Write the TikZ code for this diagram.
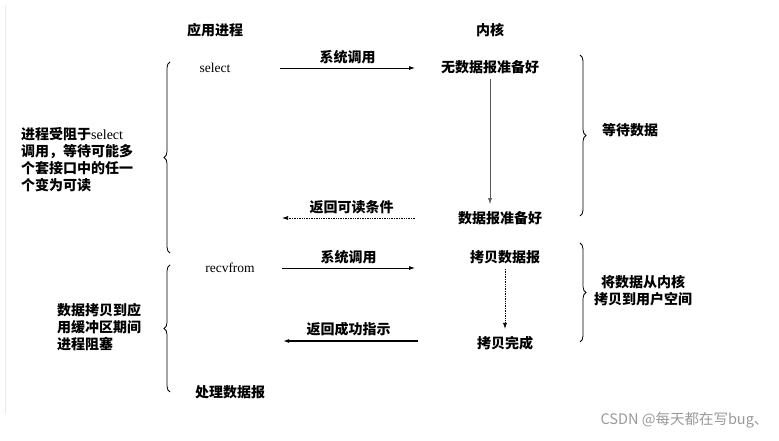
\documentclass[tikz,border=0pt]{standalone}
\usepackage{fontspec}
\setmainfont{Liberation Serif}
\newfontfamily\cjk{Noto Sans CJK SC}
\usetikzlibrary{decorations.pathreplacing,arrows.meta}
\begin{document}
\begin{tikzpicture}[x=1pt,y=1pt,
    lbl/.style={font=\cjk\bfseries\fontsize{14}{17}\selectfont, inner sep=1pt},
    word/.style={font=\fontsize{13.5}{16}\selectfont, inner sep=1pt},
    call/.style={-{Latex[length=6pt,width=4pt]}, line width=0.8pt},
    wait/.style={-{Latex[length=6pt,width=4pt]}, line width=0.6pt, gray!70!black},
    back/.style={-{Latex[length=6pt,width=4pt]}, line width=0.7pt, densely dotted},
    brc/.style={decorate, decoration={brace, amplitude=6pt}, line width=0.8pt}]
    \useasboundingbox (0,0) rectangle (779,441);
    \draw[cyan!8!gray!20, line width=0.8pt] (5,436) -- (5,28);
%   column titles
    \node[lbl] (tapp) at (215,411) {应用进程};
    \node[lbl] (tker) at (490,411) {内核};
%   select phase
    \node[word] (sel)  at (215,373) {select};
    \node[lbl]  (nodg) at (490,374) {无数据报准备好};
    \node[lbl]  (dgr)  at (500,223) {数据报准备好};
    \coordinate (c1a) at (280,373);
    \coordinate (c1b) at (415,373);
    \draw[call] (c1a) -- node[lbl, above=3pt] {系统调用} (c1b);
    \draw[wait, shorten <=4pt, shorten >=6pt] (nodg.south) -- (nodg.south |- dgr.north);
    \coordinate (r1a) at (415,223);
    \coordinate (r1b) at (282,223);
    \draw[back] (r1a) -- node[lbl, above=3pt, xshift=3pt] {返回可读条件} (r1b);
%   recvfrom phase
    \node[word] (recv) at (230,173) {recvfrom};
    \node[lbl]  (cpy)  at (505,184) {拷贝数据报};
    \node[lbl]  (done) at (505,98)  {拷贝完成};
    \node[lbl]  (proc) at (230,49)  {处理数据报};
    \coordinate (c2a) at (282,173);
    \coordinate (c2b) at (415,173);
    \draw[call] (c2a) -- node[lbl, above=3pt] {系统调用} (c2b);
    \draw[back, shorten <=4pt, shorten >=6pt] (cpy.south) -- (done.north);
    \coordinate (r2a) at (418,100);
    \coordinate (r2b) at (283,100);
    \draw[call, line width=1.2pt] (r2a) -- node[lbl, above=3pt, xshift=-2pt] {返回成功指示} (r2b);
%   braces and notes
    \draw[brc] (170,188) -- (170,379);
    \node[lbl, align=left, anchor=west] (blk1) at (20,281)
        {进程受阻于{\rmfamily\mdseries select}\\调用，等待可能多\\个套接口中的任一\\个变为可读};
    \draw[brc] (170,49) -- (170,176);
    \node[lbl, align=left, anchor=west] (blk2) at (56,114)
        {数据拷贝到应\\用缓冲区期间\\进程阻塞};
    \draw[brc] (580,386) -- (580,225);
    \node[lbl] (wtd) at (630,311) {等待数据};
    \draw[brc] (580,198) -- (580,99);
    \node[lbl, align=center] (cpu) at (643,150) {将数据从内核\\拷贝到用户空间};
%   watermark
    \node[font=\cjk\fontsize{14.5}{16}\selectfont, text=gray!80, anchor=east] (wm) at (772,21) {CSDN @每天都在写bug、};
\end{tikzpicture}
\end{document}
